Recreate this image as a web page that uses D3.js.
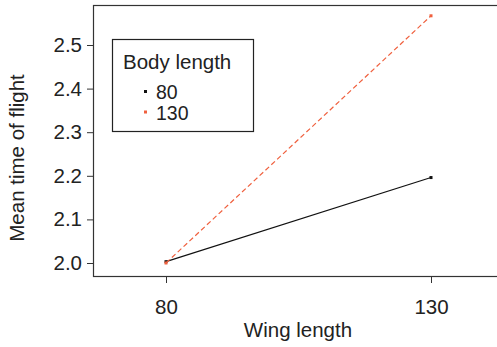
<!DOCTYPE html>
<html>
<head>
<meta charset="utf-8">
<script src="https://cdn.jsdelivr.net/npm/d3@7"></script>
<style>
  body { margin: 0; background: #fff; }
  svg { display: block; font-family: "Liberation Sans", Arial, sans-serif; }
</style>
</head>
<body>
<svg id="chart" width="497" height="347"></svg>
<script>
// Wing length levels on the x axis
const wingLengths = [80, 130];
// Body length groups (one line each)
const bodyLengths = ["80", "130"];
// Mean time of flight for each body length group, by wing length
const meansBody80 = [2.003, 2.196];
const meansBody130 = [2.000, 2.567];
const yTicks = [2.0, 2.1, 2.2, 2.3, 2.4, 2.5];

const series = [
  { name: bodyLengths[0], values: meansBody80, color: "#111111", dash: null },
  { name: bodyLengths[1], values: meansBody130, color: "#f0603e", dash: "5,3" }
];

const FS = 20.5;
const svg = d3.select("#chart");
const box = { left: 93, right: 498, top: 5, bottom: 276 };

const x = d3.scaleLinear().domain([80, 130]).range([166, 431]);
const y = d3.scaleLinear().domain([2.0, 2.5]).range([263, 45]);

// plot frame
svg.append("rect")
  .attr("x", box.left + 0.5).attr("y", box.top + 0.5)
  .attr("width", box.right - box.left).attr("height", box.bottom - box.top)
  .attr("fill", "none").attr("stroke", "#333").attr("stroke-width", 1.2);

// y axis
const yAxis = d3.axisLeft(y).tickValues(yTicks).tickFormat(d3.format(".1f"))
  .tickSize(6).tickPadding(5);
const gy = svg.append("g").attr("transform", `translate(${box.left},0)`).call(yAxis);
gy.select(".domain").remove();
gy.selectAll("text").attr("font-size", FS).attr("fill", "#222");
gy.selectAll("line").attr("stroke", "#333");

// x axis
const xAxis = d3.axisBottom(x).tickValues(wingLengths).tickSize(7).tickPadding(16);
const gx = svg.append("g").attr("transform", `translate(0,${box.bottom})`).call(xAxis);
gx.select(".domain").remove();
gx.selectAll("text").attr("font-size", FS).attr("fill", "#222");
gx.selectAll("line").attr("stroke", "#333");

// axis titles
svg.append("text").attr("x", 298).attr("y", 337).attr("text-anchor", "middle")
  .attr("font-size", FS).attr("fill", "#222").text("Wing length");
svg.append("text").attr("transform", "translate(24,158) rotate(-90)")
  .attr("text-anchor", "middle").attr("font-size", FS).attr("fill", "#222")
  .text("Mean time of flight");

// interaction lines
const line = d3.line().x((d, i) => x(wingLengths[i])).y(d => y(d));
series.forEach(s => {
  svg.append("path").datum(s.values)
    .attr("d", line).attr("fill", "none")
    .attr("stroke", s.color).attr("stroke-width", 1.2)
    .attr("stroke-dasharray", s.dash);
  svg.selectAll(null).data(s.values).enter().append("rect")
    .attr("x", (d, i) => x(wingLengths[i]) - 1.5)
    .attr("y", d => y(d) - 1.5)
    .attr("width", 3).attr("height", 3)
    .attr("fill", s.color);
});

// legend
const lg = svg.append("g");
lg.append("rect").attr("x", 112.5).attr("y", 39.5).attr("width", 141).attr("height", 92)
  .attr("fill", "#fff").attr("stroke", "#222").attr("stroke-width", 1.2);
lg.append("text").attr("x", 123).attr("y", 69).attr("font-size", FS).attr("fill", "#222")
  .text("Body length");
series.forEach((s, i) => {
  const cy = 91.5 + i * 20.5;
  lg.append("rect").attr("x", 144).attr("y", cy - 1.5).attr("width", 3).attr("height", 3)
    .attr("fill", s.color);
  lg.append("text").attr("x", 156).attr("y", cy + 7.5).attr("font-size", 19.5).attr("fill", "#222")
    .text(s.name);
});
</script>
</body>
</html>
